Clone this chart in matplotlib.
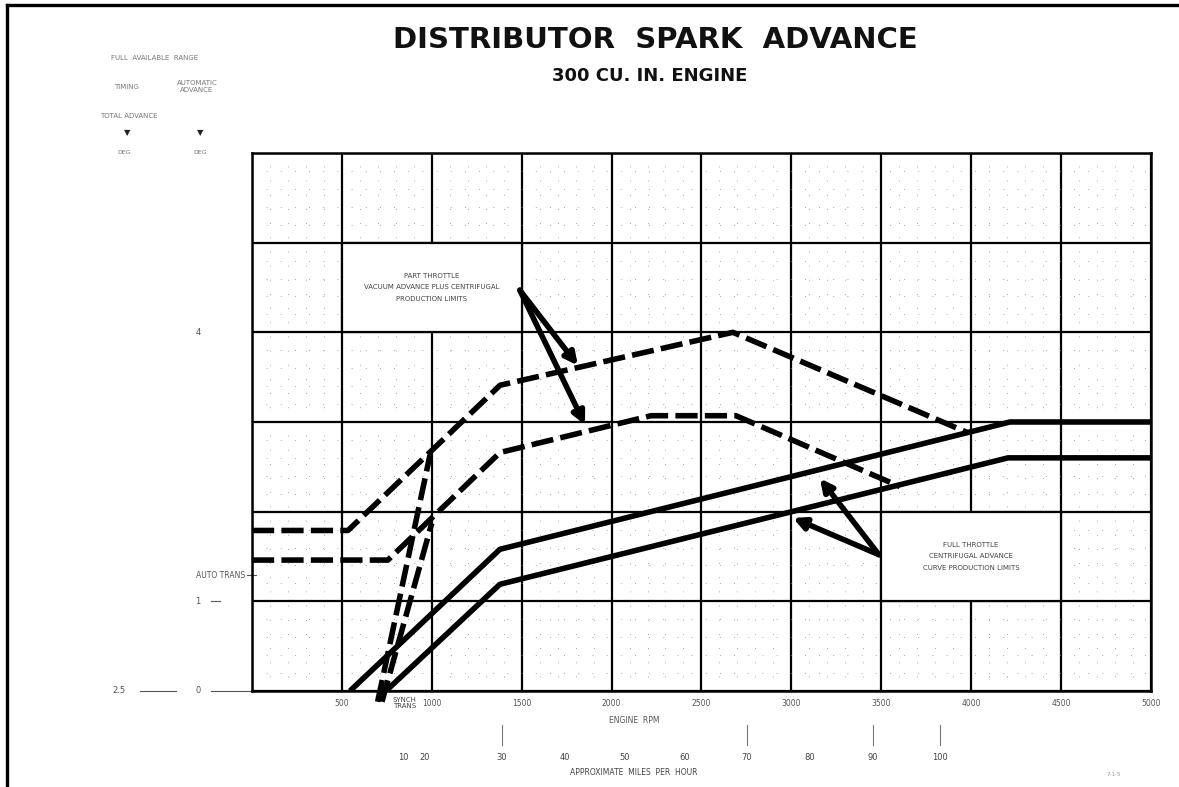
import matplotlib
matplotlib.use("Agg")
import matplotlib.pyplot as plt
from matplotlib.ticker import MultipleLocator
from matplotlib.lines import Line2D
from matplotlib.patches import Rectangle

# engine rpm scale
rpm_ticks = [0, 500, 1000, 1500, 2000, 2500, 3000, 3500, 4000, 4500, 5000]
rpm_labels = ["", "500", "1000", "1500", "2000", "2500", "3000", "3500", "4000", "4500", "5000"]

# approximate mph scale (placed at matching rpm)
mph_labels = ["10", "20", "30", "40", "50", "60", "70", "80", "90", "100"]
mph_rpm = [840, 962, 1390, 1741, 2075, 2408, 2753, 3103, 3454, 3826]
mph_marks = [1390, 2753, 3454, 3826]

# advance scale labels
adv_vals = [0, 1, 4]
adv_labels = ["0", "1", "4"]
auto_trans_y = 1.29

# part throttle (vacuum + centrifugal) limits
part_hi_x = [0, 534, 1380, 2675, 3982]
part_hi_y = [1.79, 1.79, 3.41, 4.0, 2.88]
part_lo_x = [0, 756, 1380, 2219, 2692, 3604]
part_lo_y = [1.46, 1.46, 2.66, 3.07, 3.07, 2.28]

# synchro trans legs
synch_hi_x = [699, 990]
synch_hi_y = [-0.12, 2.63]
synch_lo_x = [723, 1000]
synch_lo_y = [-0.12, 1.87]

# full throttle centrifugal limits
full_hi_x = [545, 1379, 4216, 5000]
full_hi_y = [0, 1.58, 3.0, 3.0]
full_lo_x = [745, 1379, 4205, 5000]
full_lo_y = [0, 1.19, 2.6, 2.6]

fig = plt.figure(figsize=(11.79, 7.87), dpi=100)
ax = fig.add_axes([0.2137, 0.122, 0.7625, 0.6836])
ax.set_xlim(0, 5000)
ax.set_ylim(0, 6)

ax.set_xticks(rpm_ticks, rpm_labels)
ax.set_yticks(range(0, 7), [""] * 7)
ax.xaxis.set_minor_locator(MultipleLocator(100))
ax.yaxis.set_minor_locator(MultipleLocator(0.2))
ax.tick_params(which="both", length=0)
ax.tick_params(axis="x", labelsize=5.5, labelcolor="#555555", pad=6)
ax.grid(which="major", color="black", lw=1.6)
ax.grid(which="minor", color="#8a8a8a", lw=0.6, linestyle=(0, (1, 16)))
for s in ax.spines.values():
    s.set_linewidth(1.8)
ax.set_axisbelow(True)

dash = (0, (4, 1.3))
lw = 4
ax.plot(part_hi_x, part_hi_y, color="black", lw=lw, linestyle=dash, zorder=4)
ax.plot(part_lo_x, part_lo_y, color="black", lw=lw, linestyle=dash, zorder=4)
ax.plot(synch_hi_x, synch_hi_y, color="black", lw=lw, linestyle=dash, zorder=4, clip_on=False)
ax.plot(synch_lo_x, synch_lo_y, color="black", lw=lw, linestyle=dash, zorder=4, clip_on=False)
ax.plot(full_hi_x, full_hi_y, color="black", lw=lw, zorder=4, solid_capstyle="butt")
ax.plot(full_lo_x, full_lo_y, color="black", lw=lw, zorder=4, solid_capstyle="butt")

# note boxes
ax.add_patch(Rectangle((500, 4), 1000, 1, facecolor="white", edgecolor="black", lw=1.6, zorder=2))
ax.text(1000, 4.5, "PART THROTTLE\n\nVACUUM ADVANCE PLUS CENTRIFUGAL\n\nPRODUCTION LIMITS",
        ha="center", va="center", fontsize=5, color="#444444", linespacing=0.95, zorder=3)
ax.add_patch(Rectangle((3500, 1), 1000, 1, facecolor="white", edgecolor="black", lw=1.6, zorder=2))
ax.text(4000, 1.5, "FULL THROTTLE\n\nCENTRIFUGAL ADVANCE\n\nCURVE PRODUCTION LIMITS",
        ha="center", va="center", fontsize=5, color="#444444", linespacing=0.95, zorder=3)

arrow = dict(arrowstyle="-|>", color="black", lw=4, mutation_scale=18, shrinkA=0, shrinkB=0)
ax.annotate("", xy=(1813, 3.63), xytext=(1490, 4.47), arrowprops=arrow, zorder=5)
ax.annotate("", xy=(1852, 2.97), xytext=(1490, 4.47), arrowprops=arrow, zorder=5)
ax.annotate("", xy=(3159, 2.37), xytext=(3487, 1.52), arrowprops=arrow, zorder=5)
ax.annotate("", xy=(3009, 1.93), xytext=(3487, 1.52), arrowprops=arrow, zorder=5)

# axis texts
yt = ax.get_yaxis_transform()
xt = ax.get_xaxis_transform()
for v, lab in zip(adv_vals, adv_labels):
    ax.text(-0.06, v, lab, transform=yt, ha="center", va="center", fontsize=6, color="#555555")
ax.text(-0.148, 0, "2.5", transform=yt, ha="center", va="center", fontsize=6, color="#555555")
ax.add_line(Line2D([-0.125, -0.085], [0, 0], transform=yt, color="#555555", lw=0.8, clip_on=False))
ax.add_line(Line2D([-0.046, -0.002], [0, 0], transform=yt, color="#555555", lw=0.8, clip_on=False))
ax.add_line(Line2D([-0.045, -0.035], [1, 1], transform=yt, color="#555555", lw=0.8, clip_on=False))
ax.text(-0.008, auto_trans_y, "AUTO TRANS", transform=yt, ha="right", va="center", fontsize=5.5, color="#555555")
ax.add_line(Line2D([-0.006, 0.004], [auto_trans_y] * 2, transform=yt, color="#555555", lw=0.8, clip_on=False))

ax.text(850, -0.012, "SYNCH\nTRANS", transform=xt, ha="center", va="top", fontsize=5,
        color="#444444", linespacing=0.9)
ax.text(0.425, -0.054, "ENGINE  RPM", transform=ax.transAxes, ha="center", va="center", fontsize=5.5, color="#555555")
for r, lab in zip(mph_rpm, mph_labels):
    ax.text(r, -0.123, lab, transform=xt, ha="center", va="center", fontsize=6, color="#444444")
for r in mph_marks:
    ax.add_line(Line2D([r, r], [-0.063, -0.100], transform=xt, color="#777777", lw=0.8, clip_on=False))
ax.text(0.425, -0.152, "APPROXIMATE  MILES  PER  HOUR", transform=ax.transAxes, ha="center", va="center",
        fontsize=5.5, color="#444444")

# titles
fig.text(0.556, 0.949, "DISTRIBUTOR  SPARK  ADVANCE", ha="center", va="center",
         fontsize=21, fontweight="bold", color="#111111")
fig.text(0.551, 0.904, "300 CU. IN. ENGINE", ha="center", va="center",
         fontsize=13, fontweight="bold", color="#111111")

# top-left scale header
g = "#777777"
fig.text(0.131, 0.926, "FULL  AVAILABLE  RANGE", ha="center", va="center", fontsize=5, color=g)
fig.text(0.107, 0.890, "TIMING", ha="center", va="center", fontsize=5, color=g)
fig.text(0.167, 0.890, "AUTOMATIC\nADVANCE", ha="center", va="center", fontsize=5, color=g, linespacing=1.3)
fig.text(0.109, 0.852, "TOTAL ADVANCE", ha="center", va="center", fontsize=5, color=g)
fig.text(0.108, 0.831, "\u25BC", ha="center", va="center", fontsize=6, color="#222222")
fig.text(0.170, 0.831, "\u25BC", ha="center", va="center", fontsize=6, color="#222222")
fig.text(0.105, 0.806, "DEG", ha="center", va="center", fontsize=4.5, color=g)
fig.text(0.170, 0.806, "DEG", ha="center", va="center", fontsize=4.5, color=g)
fig.text(0.945, 0.016, "7-1-5", ha="center", va="center", fontsize=4, color="#999999")

# sheet border
fig.add_artist(Line2D([0.006, 0.006], [0.0, 0.994], color="black", lw=2.4))
fig.add_artist(Line2D([0.006, 1.0], [0.994, 0.994], color="black", lw=2.4))

fig.savefig("out.png", dpi=100)
